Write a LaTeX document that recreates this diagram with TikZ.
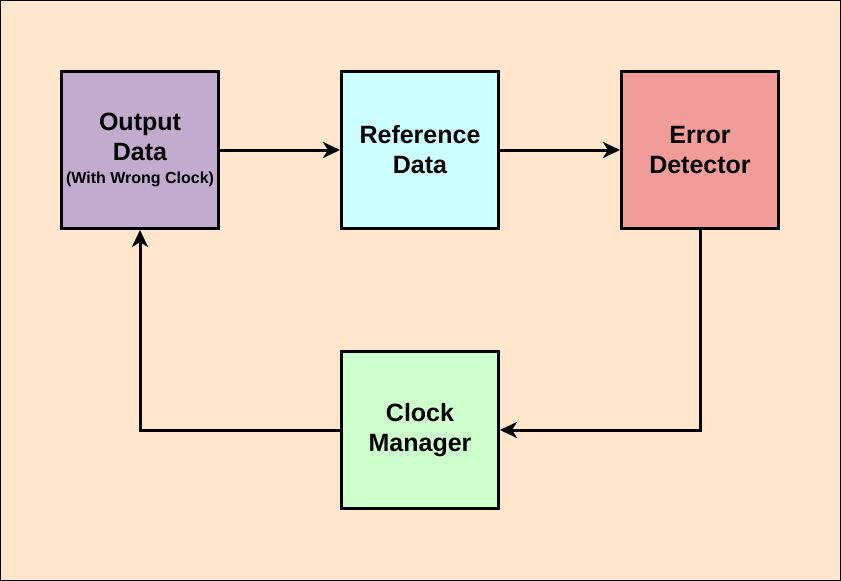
\documentclass[tikz,border=0pt]{standalone}
\usepackage{fontspec}
\setmainfont{Liberation Sans}
\usetikzlibrary{arrows.meta}
\definecolor{bgc}{HTML}{FFE6CC}
\definecolor{purp}{HTML}{C3ABD0}
\definecolor{cyanb}{HTML}{CCFFFF}
\definecolor{redb}{HTML}{F19C99}
\definecolor{greenb}{HTML}{CCFFCC}
\tikzset{
  blk/.style={draw=black, line width=3pt, minimum width=157pt, minimum height=157pt, inner sep=0pt, align=center, font=\fontsize{25}{30}\selectfont\bfseries},
  conn/.style={line width=3pt, -{Stealth[length=17pt,width=16pt,inset=5pt]}}
}
\begin{document}
\begin{tikzpicture}[x=1pt,y=-1pt]
\useasboundingbox (0,0) rectangle (841,581);
\fill[bgc, draw=black, line width=1pt] (0.5,0.5) rectangle (840.5,580.5);
\node[blk, fill=purp] (out) at (140,150) {Output\\Data\\[-7pt]{\fontsize{16}{18}\selectfont (With Wrong Clock)}};
\node[blk, fill=cyanb] (ref) at (420,150) {Reference\\Data};
\node[blk, fill=redb] (err) at (700,150) {Error\\Detector};
\node[blk, fill=greenb] (clk) at (420,430) {Clock\\Manager};
\draw[conn] (out.east) -- (ref.west);
\draw[conn] (ref.east) -- (err.west);
\draw[conn] (err.south) |- (clk.east);
\draw[conn] (clk.west) -| (out.south);
\end{tikzpicture}
\end{document}
